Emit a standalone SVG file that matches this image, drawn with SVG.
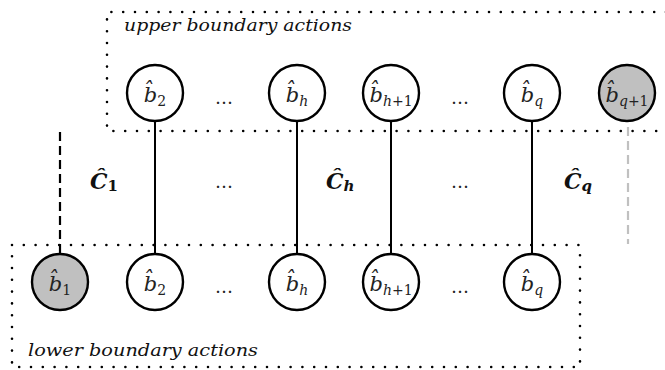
<svg xmlns="http://www.w3.org/2000/svg" width="665" height="370" viewBox="0 0 665 370">
<style>
.box{fill:none;stroke:#000;stroke-width:2.6;stroke-dasharray:0 11.8;stroke-linecap:round}
.nd{fill:#fff;stroke:#000;stroke-width:2.4}
.gr{fill:#c0c0c0}
text{font-family:"DejaVu Serif","Liberation Serif",serif}
.lab{font-size:21px;font-style:italic;fill:#222}
.sub{font-size:14px}
.up{font-style:normal}
.cap{font-size:22px;font-style:italic;font-weight:bold;fill:#111}
.dots{font-size:18px;fill:#222;text-anchor:middle}
.area{font-size:17px;font-style:italic;fill:#111}
.ln{stroke:#000;stroke-width:2}
</style>
<g id="upper-box">
<path class="box" d="M666 12 H107 V131 H666"/>
<text class="area" x="124" y="31" textLength="228" lengthAdjust="spacingAndGlyphs">upper boundary actions</text>
</g>
<g id="lower-box">
<rect class="box" x="12" y="245" width="568" height="122"/>
<text class="area" x="28" y="356" textLength="230" lengthAdjust="spacingAndGlyphs">lower boundary actions</text>
</g>
<g id="connectors">
<line class="ln" x1="155" y1="122" x2="155" y2="254"/>
<line class="ln" x1="297" y1="122" x2="297" y2="254"/>
<line class="ln" x1="391" y1="122" x2="391" y2="254"/>
<line class="ln" x1="532" y1="122" x2="532" y2="254"/>
<line x1="60" y1="132" x2="60" y2="254" stroke="#000" stroke-width="2.2" stroke-dasharray="9 5"/>
<line x1="628" y1="123" x2="628" y2="244" stroke="#c0c0c0" stroke-width="2.2" stroke-dasharray="9 5" stroke-dashoffset="-4"/>
</g>
<g id="u-b2"><circle class="nd" cx="155" cy="93" r="28"/><text class="lab" x="155" y="102" text-anchor="middle">b̂<tspan class="sub up" dy="4">2</tspan></text></g>
<g id="u-bh"><circle class="nd" cx="297" cy="93" r="28"/><text class="lab" x="297" y="102" text-anchor="middle">b̂<tspan class="sub" dy="4">h</tspan></text></g>
<g id="u-bh1"><circle class="nd" cx="391" cy="93" r="28"/><text class="lab" x="391" y="102" text-anchor="middle">b̂<tspan class="sub" dy="4">h</tspan><tspan class="sub up">+1</tspan></text></g>
<g id="u-bq"><circle class="nd" cx="532" cy="93" r="28"/><text class="lab" x="532" y="102" text-anchor="middle">b̂<tspan class="sub" dy="4">q</tspan></text></g>
<g id="u-bq1"><circle class="nd gr" cx="627" cy="93" r="28"/><text class="lab" x="627" y="102" text-anchor="middle">b̂<tspan class="sub" dy="4">q</tspan><tspan class="sub up">+1</tspan></text></g>
<g id="l-b1"><circle class="nd gr" cx="60" cy="282" r="28"/><text class="lab" x="60" y="291" text-anchor="middle">b̂<tspan class="sub up" dy="4">1</tspan></text></g>
<g id="l-b2"><circle class="nd" cx="155" cy="282" r="28"/><text class="lab" x="155" y="291" text-anchor="middle">b̂<tspan class="sub up" dy="4">2</tspan></text></g>
<g id="l-bh"><circle class="nd" cx="297" cy="282" r="28"/><text class="lab" x="297" y="291" text-anchor="middle">b̂<tspan class="sub" dy="4">h</tspan></text></g>
<g id="l-bh1"><circle class="nd" cx="391" cy="282" r="28"/><text class="lab" x="391" y="291" text-anchor="middle">b̂<tspan class="sub" dy="4">h</tspan><tspan class="sub up">+1</tspan></text></g>
<g id="l-bq"><circle class="nd" cx="532" cy="282" r="28"/><text class="lab" x="532" y="291" text-anchor="middle">b̂<tspan class="sub" dy="4">q</tspan></text></g>
<g id="dots">
<text class="dots" x="224" y="104" textLength="24">…</text>
<text class="dots" x="460" y="104" textLength="24">…</text>
<text class="dots" x="224" y="188" textLength="24">…</text>
<text class="dots" x="460" y="188" textLength="24">…</text>
<text class="dots" x="224" y="293" textLength="24">…</text>
<text class="dots" x="460" y="293" textLength="24">…</text>
</g>
<g id="cost-labels">
<text class="cap" x="90" y="189">Ĉ<tspan font-size="15" dy="2" font-style="normal">1</tspan></text>
<text class="cap" x="326" y="189">Ĉ<tspan font-size="15" dy="2">h</tspan></text>
<text class="cap" x="564" y="189">Ĉ<tspan font-size="15" dy="2">q</tspan></text>
</g>
</svg>
